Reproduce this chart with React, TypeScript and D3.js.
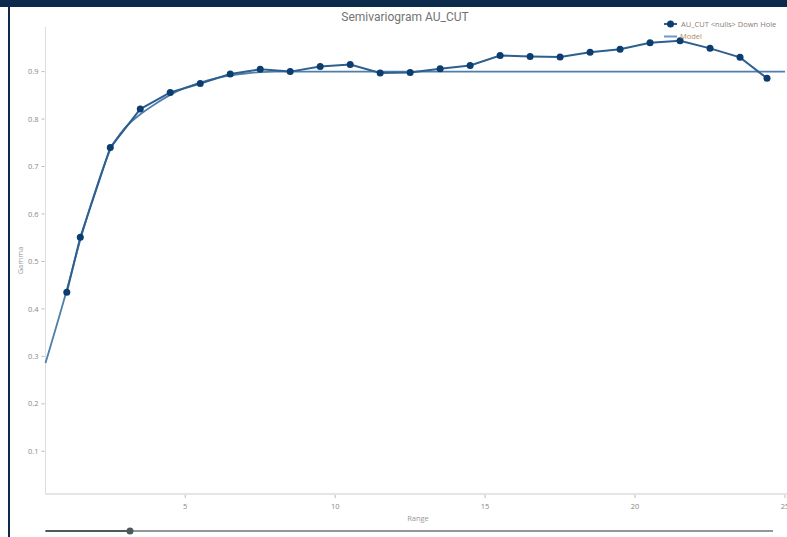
import React, { useEffect, useRef } from "react"
import * as d3 from "d3"

// experimental semivariogram (lag centre, gamma)
const lagRange = [1.05, 1.5, 2.5, 3.5, 4.5, 5.5, 6.5, 7.5, 8.5, 9.5, 10.5, 11.5, 12.5, 13.5, 14.5, 15.5, 16.5, 17.5, 18.5, 19.5, 20.5, 21.5, 22.5, 23.5, 24.4]
const lagGamma = [0.435, 0.551, 0.74, 0.821, 0.856, 0.875, 0.895, 0.905, 0.9, 0.911, 0.915, 0.897, 0.898, 0.906, 0.913, 0.934, 0.932, 0.931, 0.941, 0.947, 0.961, 0.965, 0.949, 0.93, 0.886]

// fitted model
const modelRange = [0.34, 1.05, 1.5, 2, 2.5, 3, 3.5, 4, 4.5, 5, 5.5, 6, 6.5, 7, 7.5, 8, 8.5, 25]
const modelGamma = [0.286, 0.44, 0.545, 0.648, 0.735, 0.782, 0.81, 0.832, 0.851, 0.866, 0.877, 0.886, 0.892, 0.896, 0.899, 0.9, 0.9, 0.9]

const xTicks = [5, 10, 15, 20, 25]
const yTicks = [0.1, 0.2, 0.3, 0.4, 0.5, 0.6, 0.7, 0.8, 0.9]

const seriesName = "AU_CUT <nulls> Down Hole"
const modelName = "Model"

export default function App() {
    const svgRef = useRef<SVGSVGElement | null>(null)

    useEffect(() => {
        const width = 787
        const height = 537
        const left = 45.5
        const right = 791
        const top = 27
        const bottom = 494

        const svg = d3.select(svgRef.current)
        svg.selectAll("*").remove()
        svg.attr("width", width).attr("height", height)

        svg.append("rect").attr("width", width).attr("height", height).attr("fill", "#fff")

        // frame
        svg.append("rect").attr("x", 0).attr("y", 0).attr("width", width).attr("height", 7).attr("fill", "#0c2a4b")
        svg.append("rect").attr("x", 8).attr("y", 0).attr("width", 2).attr("height", height).attr("fill", "#0c2a4b")

        const x = d3.scaleLinear().domain([0.34, 25.2]).range([left, right])
        const y = d3.scaleLinear().domain([0.01, 0.994]).range([bottom, top])

        const font = "'Open Sans', 'DejaVu Sans', sans-serif"

        // axes
        svg.append("line").attr("x1", left).attr("x2", left).attr("y1", top).attr("y2", bottom)
            .attr("stroke", "#ddd").attr("stroke-width", 1)
        svg.append("line").attr("x1", left).attr("x2", width).attr("y1", bottom).attr("y2", bottom)
            .attr("stroke", "#ddd").attr("stroke-width", 1.5)

        const yg = svg.append("g")
        yTicks.forEach((t) => {
            yg.append("line").attr("x1", left - 4).attr("x2", left - 1).attr("y1", y(t)).attr("y2", y(t))
                .attr("stroke", "#bbb")
            yg.append("text").attr("x", left - 7).attr("y", y(t)).attr("dy", "0.35em")
                .attr("text-anchor", "end").attr("font-size", 7.5).attr("font-family", font)
                .attr("fill", "#888").text(d3.format(".1f")(t))
        })

        const xg = svg.append("g")
        xTicks.forEach((t) => {
            xg.append("line").attr("x1", x(t)).attr("x2", x(t)).attr("y1", bottom + 1).attr("y2", bottom + 4)
                .attr("stroke", "#bbb")
            xg.append("text").attr("x", x(t)).attr("y", bottom + 15)
                .attr("text-anchor", "middle").attr("font-size", 7.5).attr("font-family", font)
                .attr("fill", "#888").text(t)
        })

        svg.append("text").attr("x", 418).attr("y", 521).attr("text-anchor", "middle")
            .attr("font-size", 7.5).attr("font-family", font).attr("fill", "#999").text("Range")
        svg.append("text").attr("transform", `translate(23,${(top + bottom) / 2}) rotate(-90)`)
            .attr("text-anchor", "middle").attr("font-size", 7.5).attr("font-family", font)
            .attr("fill", "#999").text("Gamma")

        // title
        svg.append("text").attr("x", 405).attr("y", 21).attr("text-anchor", "middle")
            .attr("font-size", 12).attr("font-family", "'Roboto', sans-serif")
            .attr("fill", "#737373").text("Semivariogram AU_CUT")

        // model
        const modelLine = d3.line<number>()
            .x((d, i) => x(modelRange[i]))
            .y((d) => y(d))
            .curve(d3.curveMonotoneX)
        svg.append("path").datum(modelGamma).attr("d", modelLine)
            .attr("fill", "none").attr("stroke", "#4e7eab").attr("stroke-width", 1.8)

        // experimental
        const lagLine = d3.line<number>()
            .x((d, i) => x(lagRange[i]))
            .y((d) => y(d))
        svg.append("path").datum(lagGamma).attr("d", lagLine)
            .attr("fill", "none").attr("stroke", "#2f5f8f").attr("stroke-width", 2)
        svg.append("g").selectAll("circle").data(lagGamma).join("circle")
            .attr("cx", (d, i) => x(lagRange[i])).attr("cy", (d) => y(d)).attr("r", 3.5)
            .attr("fill", "#0b3d6e")

        // legend
        const lg = svg.append("g")
        lg.append("line").attr("x1", 664).attr("x2", 677).attr("y1", 24).attr("y2", 24)
            .attr("stroke", "#2f5f8f").attr("stroke-width", 2)
        lg.append("circle").attr("cx", 670.5).attr("cy", 24).attr("r", 3.5).attr("fill", "#0b3d6e")
        lg.append("text").attr("x", 681).attr("y", 24).attr("dy", "0.35em").attr("font-size", 7.5)
            .attr("font-family", font).attr("fill", "#8a7e74").text(seriesName)
        lg.append("line").attr("x1", 664).attr("x2", 677).attr("y1", 36.5).attr("y2", 36.5)
            .attr("stroke", "#6f98c0").attr("stroke-width", 2)
        lg.append("text").attr("x", 680).attr("y", 36.5).attr("dy", "0.35em").attr("font-size", 7.5)
            .attr("font-family", font).attr("fill", "#b08a66").text(modelName)

        // range slider
        const handle = 130
        svg.append("line").attr("x1", left).attr("x2", 773).attr("y1", 531).attr("y2", 531)
            .attr("stroke", "#8e999c").attr("stroke-width", 2)
        svg.append("line").attr("x1", left).attr("x2", handle).attr("y1", 531).attr("y2", 531)
            .attr("stroke", "#4c5a5e").attr("stroke-width", 2)
        svg.append("circle").attr("cx", handle).attr("cy", 531).attr("r", 3.5).attr("fill", "#4c5a5e")
    }, [])

    return (
        <svg ref={svgRef} style={{ position: "absolute", left: 0, top: 0, display: "block" }} />
    )
}
